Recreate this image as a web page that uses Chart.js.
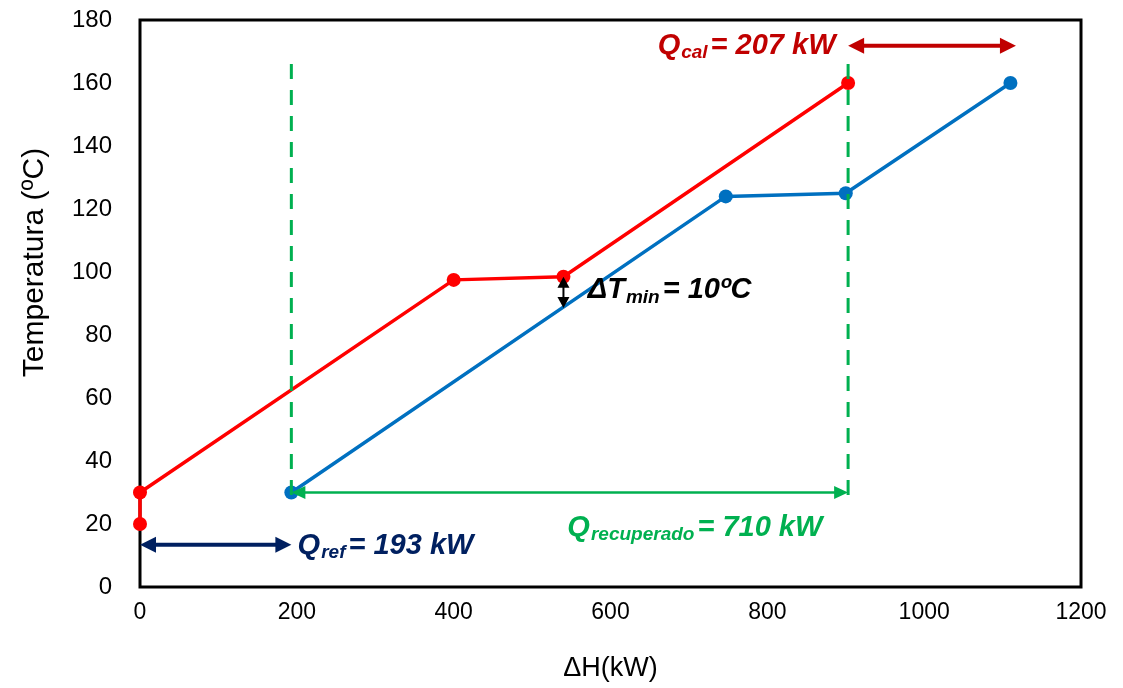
<!DOCTYPE html>
<html>
<head>
<meta charset="utf-8">
<script src="https://cdn.jsdelivr.net/npm/chart.js@4"></script>
<style>
    html, body { margin: 0; padding: 0; background: #fff; }
    #grafico-pinch { width: 1123px; height: 688px; }
</style>
</head>
<body>
<div id="grafico-pinch"><canvas id="canvas-pinch"></canvas></div>
<script>
// Corrente quente (vermelha) e corrente fria (azul): ΔH (kW) vs temperatura (ºC)
const quenteX = [0, 0, 400, 540, 903];
const quenteY = [20, 30, 97.5, 98.5, 160];
const frioX = [193, 747, 900, 1110];
const frioY = [30, 124, 125, 160];

// Linhas verticais tracejadas (x) e sua extensão em y (de cima para baixo)
const linhasTracejadasX = [193, 903];
const linhasTracejadasY = [166, 26];

// Setas das cargas térmicas: [x inicial, x final, y]
const setaRef = [0, 193, 13.4];
const setaCal = [903, 1117, 171.8];
const setaRec = [193, 903, 30];
const setaDeltaT = [540, 98.5, 88.6]; // x, y superior, y inferior

// Rótulos dos eixos
const ticksX = [0, 200, 400, 600, 800, 1000, 1200];
const ticksY = [0, 20, 40, 60, 80, 100, 120, 140, 160, 180];

const VERMELHO = "#ff0000";
const AZUL = "#0070c0";
const VERDE = "#00b050";
const AZUL_ESCURO = "#002060";
const VERMELHO_ESCURO = "#c00000";
const FONTE = "'Liberation Sans', Arial, sans-serif";

function pontos(xs, ys) {
    return xs.map((x, i) => ({ x: x, y: ys[i] }));
}

function desenhaSeta(ctx, x1, y1, x2, y2, cor, largura, cabeca, duplo) {
    const ang = Math.atan2(y2 - y1, x2 - x1);
    ctx.save();
    ctx.strokeStyle = cor;
    ctx.fillStyle = cor;
    ctx.lineWidth = largura;
    ctx.beginPath();
    ctx.moveTo(x1 + Math.cos(ang) * cabeca[0] * 0.8, y1 + Math.sin(ang) * cabeca[0] * 0.8);
    ctx.lineTo(x2 - Math.cos(ang) * cabeca[0] * 0.8, y2 - Math.sin(ang) * cabeca[0] * 0.8);
    ctx.stroke();
    const ponta = (px, py, a) => {
        ctx.beginPath();
        ctx.moveTo(px, py);
        ctx.lineTo(px - Math.cos(a) * cabeca[0] - Math.sin(a) * cabeca[1] / 2, py - Math.sin(a) * cabeca[0] + Math.cos(a) * cabeca[1] / 2);
        ctx.lineTo(px - Math.cos(a) * cabeca[0] + Math.sin(a) * cabeca[1] / 2, py - Math.sin(a) * cabeca[0] - Math.cos(a) * cabeca[1] / 2);
        ctx.closePath();
        ctx.fill();
    };
    ponta(x2, y2, ang);
    if (duplo) ponta(x1, y1, ang + Math.PI);
    ctx.restore();
}

// Texto do tipo Q_sub = valor, com subscrito
function desenhaRotulo(ctx, x, y, principal, sub, resto, cor, alinhamento) {
    const fonteGrande = "italic bold 29px " + FONTE;
    const fontePequena = "italic bold 19px " + FONTE;
    ctx.save();
    ctx.fillStyle = cor;
    ctx.textBaseline = "middle";
    ctx.textAlign = "left";
    ctx.font = fonteGrande;
    const w1 = ctx.measureText(principal).width;
    const w3 = ctx.measureText(resto).width;
    ctx.font = fontePequena;
    const w2 = ctx.measureText(sub).width;
    const total = w1 + w2 + 4 + w3;
    let x0 = alinhamento === "right" ? x - total : x;
    ctx.font = fonteGrande;
    ctx.fillText(principal, x0, y);
    ctx.font = fontePequena;
    ctx.fillText(sub, x0 + w1 + 1, y + 7);
    ctx.font = fonteGrande;
    ctx.fillText(resto, x0 + w1 + w2 + 4, y);
    ctx.restore();
}

const anotacoes = {
    id: "anotacoes",
    beforeDatasetsDraw(chart) {
        // moldura da área do gráfico, por baixo das séries
        const ctx = chart.ctx;
        const a = chart.chartArea;
        ctx.save();
        ctx.strokeStyle = "#000";
        ctx.lineWidth = 3;
        ctx.strokeRect(a.left, a.top, a.right - a.left, a.bottom - a.top);
        ctx.restore();
    },
    afterDatasetsDraw(chart) {
        const ctx = chart.ctx;
        const sx = chart.scales.x;
        const sy = chart.scales.y;

        desenhaSeta(ctx, sx.getPixelForValue(setaRef[0]), sy.getPixelForValue(setaRef[2]),
            sx.getPixelForValue(setaRef[1]), sy.getPixelForValue(setaRef[2]), AZUL_ESCURO, 4, [16, 16], true);
        desenhaSeta(ctx, sx.getPixelForValue(setaCal[0]), sy.getPixelForValue(setaCal[2]),
            sx.getPixelForValue(setaCal[1]), sy.getPixelForValue(setaCal[2]), VERMELHO_ESCURO, 4, [16, 16], true);
        desenhaSeta(ctx, sx.getPixelForValue(setaRec[0]), sy.getPixelForValue(setaRec[2]),
            sx.getPixelForValue(setaRec[1]), sy.getPixelForValue(setaRec[2]), VERDE, 2.5, [14, 13], true);
        desenhaSeta(ctx, sx.getPixelForValue(setaDeltaT[0]), sy.getPixelForValue(setaDeltaT[1]),
            sx.getPixelForValue(setaDeltaT[0]), sy.getPixelForValue(setaDeltaT[2]), "#000", 2, [11, 12], true);

        desenhaRotulo(ctx, sx.getPixelForValue(201), sy.getPixelForValue(13), "Q", "ref", "= 193 kW", AZUL_ESCURO, "left");
        desenhaRotulo(ctx, sx.getPixelForValue(887), sy.getPixelForValue(171.8), "Q", "cal", "= 207 kW", VERMELHO_ESCURO, "right");
        desenhaRotulo(ctx, sx.getPixelForValue(545), sy.getPixelForValue(18.8), "Q", "recuperado", "= 710 kW", VERDE, "left");
        desenhaRotulo(ctx, sx.getPixelForValue(571), sy.getPixelForValue(94.2), "ΔT", "min", "= 10ºC", "#000", "left");

        // título do eixo y, um pouco acima do centro como no original
        ctx.save();
        ctx.translate(35, sy.getPixelForValue(103));
        ctx.rotate(-Math.PI / 2);
        ctx.font = "30px " + FONTE;
        ctx.fillStyle = "#000";
        ctx.textAlign = "center";
        ctx.textBaseline = "middle";
        ctx.fillText("Temperatura (ºC)", 0, 0);
        ctx.restore();
    }
};

const linhasTracejadas = linhasTracejadasX.map(x => ({
    data: pontos([x, x], linhasTracejadasY),
    showLine: true,
    borderColor: VERDE,
    borderWidth: 3,
    borderDash: [15, 11],
    pointRadius: 0,
    clip: false
}));

new Chart(document.getElementById("canvas-pinch"), {
    type: "scatter",
    data: {
        datasets: [
            ...linhasTracejadas,
            {
                label: "Corrente quente",
                data: pontos(quenteX, quenteY),
                showLine: true,
                borderColor: VERMELHO,
                backgroundColor: VERMELHO,
                borderWidth: 3.5,
                pointRadius: 7,
                pointBorderWidth: 0,
                clip: false
            },
            {
                label: "Corrente fria",
                data: pontos(frioX, frioY),
                showLine: true,
                borderColor: AZUL,
                backgroundColor: AZUL,
                borderWidth: 3.5,
                pointRadius: 7,
                pointBorderWidth: 0,
                clip: false
            }
        ]
    },
    options: {
        responsive: true,
        maintainAspectRatio: false,
        animation: false,
        layout: { padding: { top: 20, right: 42, left: 0, bottom: 0 } },
        plugins: { legend: { display: false }, tooltip: { enabled: false } },
        scales: {
            x: {
                type: "linear",
                min: 0,
                max: 1200,
                afterBuildTicks: s => { s.ticks = ticksX.map(v => ({ value: v })); },
                afterFit: s => { s.height = 101; s.paddingLeft = 0; s.paddingRight = 0; },
                grid: { display: false, drawTicks: false },
                border: { display: false },
                ticks: {
                    color: "#000",
                    padding: 12,
                    callback: v => String(v),
                    font: { family: FONTE, size: 23 }
                },
                title: {
                    display: true,
                    text: "ΔH(kW)",
                    color: "#000",
                    padding: { top: 0, bottom: 3 },
                    font: { family: FONTE, size: 27 }
                }
            },
            y: {
                type: "linear",
                min: 0,
                max: 180,
                afterBuildTicks: s => { s.ticks = ticksY.map(v => ({ value: v })); },
                afterFit: s => { s.width = 140; s.paddingTop = 0; s.paddingBottom = 0; },
                grid: { display: false, drawTicks: false },
                border: { display: false },
                ticks: {
                    color: "#000",
                    padding: 28,
                    callback: v => String(v),
                    font: { family: FONTE, size: 24 }
                },
                title: { display: false }
            }
        }
    },
    plugins: [anotacoes]
});
</script>
</body>
</html>
